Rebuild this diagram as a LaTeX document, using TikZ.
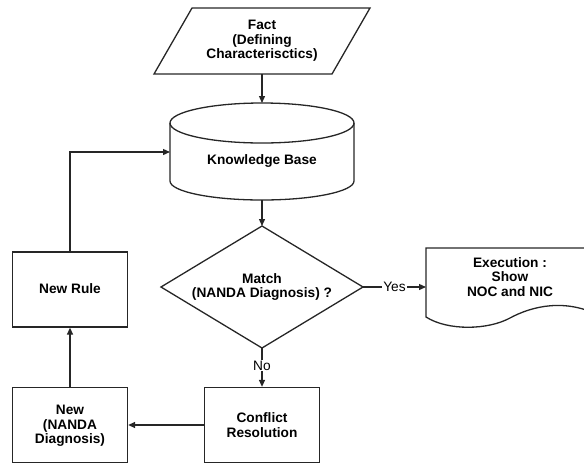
\documentclass[tikz,border=0pt]{standalone}
\usepackage{fontspec}
\setmainfont{Liberation Sans}
\usetikzlibrary{arrows.meta,shapes.geometric}
\tikzset{
  line/.style={line width=1.3pt, draw=black!85},
  arr/.style={line, -{Triangle[length=7pt,width=6pt]}},
  lbl/.style={align=center, font=\bfseries\fontsize{13.7}{14.5}\selectfont, inner sep=0pt},
  small/.style={font=\fontsize{13.7}{14.5}\selectfont, fill=white, inner sep=1pt},
  box/.style={line, rectangle, minimum width=115pt, minimum height=75pt, inner sep=0pt}
}
\begin{document}
\begin{tikzpicture}[x=1pt,y=-1pt]
\useasboundingbox (0,0) rectangle (584,464);
\begin{scope}
\clip (0,0) rectangle (584,464);
% Fact parallelogram
\draw[line] (192,8) -- (370,8) -- (332,74) -- (154,74) -- cycle;
\node[lbl] (fact) at (262,41) {Fact\\(Defining\\Characterisctics)};
\coordinate (factb) at (262,74);
% Knowledge base cylinder
\draw[line] (262,123) ellipse [x radius=92, y radius=20];
\draw[line] (170,123) -- (170,181) arc[start angle=180, end angle=0, x radius=92, y radius=19] -- (354,123);
\node[lbl] (kb) at (262,161) {Knowledge Base};
\coordinate (kbt) at (262,103);
\coordinate (kbb) at (262,200);
\coordinate (kbl) at (170,152);
% Diamond
\draw[line] (262,226) -- (363,287) -- (262,348) -- (161,287) -- cycle;
\node[lbl] (match) at (262,287) {Match\\(NANDA Diagnosis) ?};
\coordinate (dt) at (262,226);
\coordinate (dr) at (363,287);
\coordinate (db) at (262,348);
% Document
\draw[line] (600,248) -- (426,248) -- (426,317)
  .. controls (448,331) and (488,330) .. (510,318)
  .. controls (532,306) and (566,298) .. (600,316);
\node[lbl] (exec) at (510,277) {Execution :\\Show\\NOC and NIC};
\coordinate (docl) at (426,287);
% Boxes
\node[box] (conf) at (262,425) {};
\node[lbl] at (262,425) {Conflict\\Resolution};
\node[box] (newd) at (70,425) {};
\node[lbl] at (70,426) {New\\(NANDA\\Diagnosis)};
\node[box] (rule) at (70,289.5) {};
\node[lbl] at (70,289) {New Rule};
% Connectors
\draw[arr] (factb) -- (kbt);
\draw[arr] (kbb) -- (dt);
\draw[arr] (dr) -- node[small] {Yes} (docl);
\draw[arr] (db) -- node[small, pos=0.45] {No} (conf.north);
\draw[arr] (conf.west) -- (newd.east);
\draw[arr] (newd.north) -- (rule.south);
\draw[arr] (rule.north) |- (kbl);
\end{scope}
\end{tikzpicture}
\end{document}
